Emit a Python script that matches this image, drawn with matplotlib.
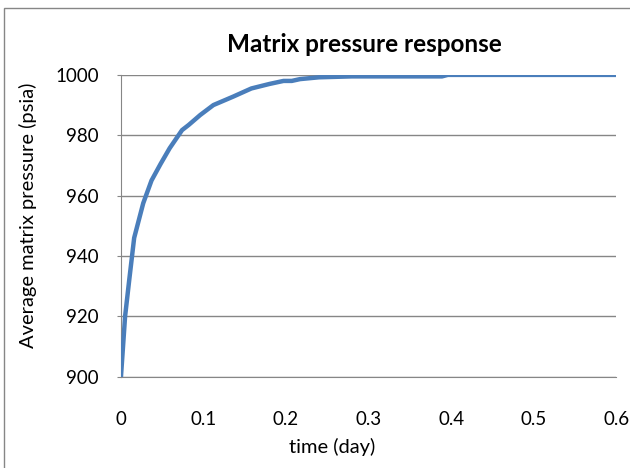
import matplotlib
matplotlib.use("Agg")
import matplotlib.pyplot as plt
from matplotlib.patches import Rectangle

plt.rcParams['font.family'] = ['Lato', 'DejaVu Sans']

# matrix pressure vs. time
time_day = [0, 0.005, 0.01, 0.016, 0.027, 0.037, 0.048, 0.059, 0.074, 0.082,
            0.096, 0.112, 0.136, 0.158, 0.18, 0.197, 0.207, 0.217, 0.24, 0.28,
            0.389, 0.396, 0.6]
pressure = [900, 920, 932, 946, 957.5, 965, 970.5, 975.7, 981.7, 983.4,
            986.7, 990, 992.8, 995.5, 997, 998, 998, 998.6, 999.2, 999.5,
            999.5, 1000, 1000]

x_ticks = [0, 0.1, 0.2, 0.3, 0.4, 0.5, 0.6]
x_labels = ["0", "0.1", "0.2", "0.3", "0.4", "0.5", "0.6"]
y_ticks = [900, 920, 940, 960, 980, 1000]

fig = plt.figure(figsize=(6.3, 4.68), dpi=100)
ax = fig.add_axes([0.192, 0.195, 0.786, 0.645])

ax.plot(time_day, pressure, color="#4A7EBB", lw=3.2, solid_joinstyle="round", zorder=3)

ax.set_xlim(0, 0.6)
ax.set_ylim(900, 1000)
ax.set_xticks(x_ticks)
ax.set_xticklabels(x_labels)
ax.set_yticks(y_ticks)
ax.yaxis.grid(True, color="#868686", lw=1)
ax.set_axisbelow(True)

for s in ["top", "right"]:
    ax.spines[s].set_visible(False)
ax.spines["left"].set_color("#868686")
ax.spines["bottom"].set_color("#868686")
ax.tick_params(axis="y", length=3, color="#868686", pad=13, labelsize=13.5)
ax.tick_params(axis="x", length=0, pad=25, labelsize=13.5)

fig.text(0.579, 1 - 52 / 468, "Matrix pressure response", fontsize=17.5,
         fontweight="bold", ha="center", va="baseline")
fig.text(0.527, 1 - 447 / 468, "time (day)", fontsize=14.5, ha="center", va="center")
fig.text(0.044, 1 - 215 / 468, "Average matrix pressure (psia)", fontsize=14.5,
         rotation=90, ha="center", va="center")

# chart area frame
fig.patches.append(Rectangle((4 / 630, -0.1), 1.2, 1 - 8 / 468 + 0.1,
                             transform=fig.transFigure, fill=False,
                             edgecolor="#868686", lw=1))

fig.savefig("out.png", dpi=100)
